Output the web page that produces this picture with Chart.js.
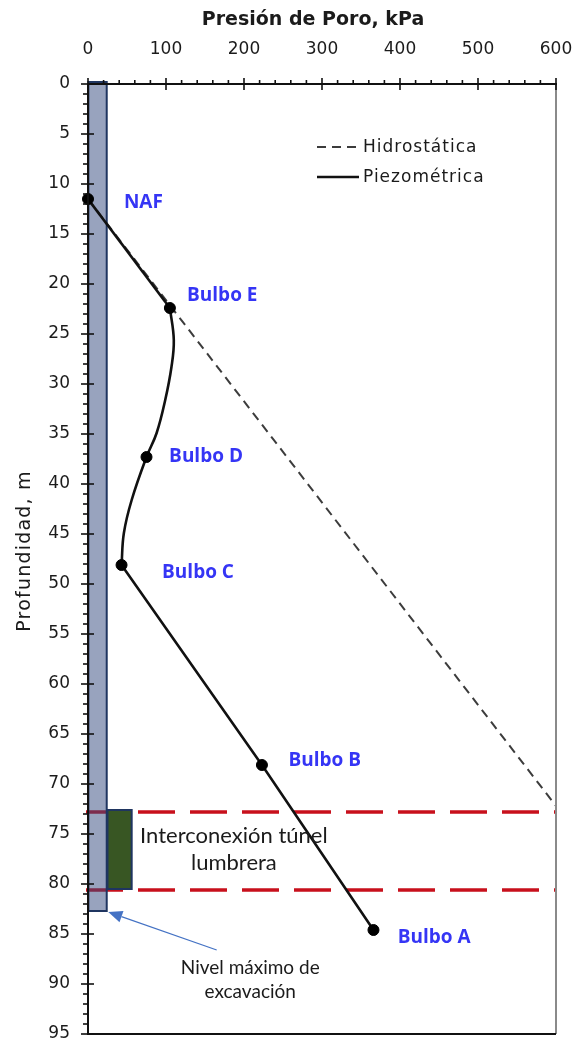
<!DOCTYPE html>
<html>
<head>
<meta charset="utf-8">
<script src="https://cdn.jsdelivr.net/npm/chart.js@4.4.1/dist/chart.umd.min.js"></script>
<style>
  html, body { margin: 0; padding: 0; background: #fff; }
  #wrap { width: 576px; height: 1047px; }
</style>
</head>
<body>
<div id="wrap"><canvas id="chart" width="576" height="1047"></canvas></div>
<script>
// Pore pressure profile along the shaft: pressure (kPa) against depth (m)
const pressureTicks = [0, 100, 200, 300, 400, 500, 600];
const depthTicks = [0, 5, 10, 15, 20, 25, 30, 35, 40, 45, 50, 55, 60, 65, 70, 75, 80, 85, 90, 95];
const pressureTitle = 'Presión de Poro, kPa';
const depthTitle = 'Profundidad, m';

// Hydrostatic line from the water table (NAF)
const hydroPressure = [0, 600];
const hydroDepth = [11.5, 72.2];

// Piezometer readings
const bulbNames = ['NAF', 'Bulbo E', 'Bulbo D', 'Bulbo C', 'Bulbo B', 'Bulbo A'];
const bulbPressure = [0, 105, 75, 43, 223, 366];
const bulbDepth = [11.5, 22.4, 37.3, 48.1, 68.1, 84.6];

// Smoothed piezometric trace between bulbs E, D and C
const curvePressure = [105, 110, 107, 99, 88, 75, 56, 46, 43];
const curveDepth = [22.4, 25.6, 28.3, 31.6, 34.9, 37.3, 41.6, 44.9, 48.1];

// Where each bulb name is written
const labelPressure = [46, 127, 104, 95, 257, 397];
const labelDepth = [11.9, 21.2, 37.3, 48.9, 67.7, 85.4];

// Tunnel connection band and shaft
const tunnelDepths = [72.8, 80.6];
const shaftPressure = [0.5, 24];
const shaftDepth = [-0.2, 82.7];
const tunnelPressure = [25, 56];
const tunnelDepth = [72.6, 80.5];

// Note about the maximum excavation level
const noteLines = ['Nivel máximo de', 'excavación'];
const notePressure = 208;
const noteDepth = [88.4, 90.8];
const arrowFrom = [165, 86.6];
const arrowTo = [26, 82.8];
const bandLines = ['Interconexión túnel', 'lumbrera'];
const bandPressure = 187;
const bandDepth = [75.2, 77.9];

const pts = (xs, ys) => xs.map((v, i) => ({ x: v, y: ys[i] }));

const BLUE = '#3535f5';
const INK = '#1b1b1b';

const overlay = {
  id: 'overlay',
  beforeDatasetsDraw(chart) {
    const { ctx, scales: { x, y }, chartArea: a } = chart;
    ctx.save();
    // red dashed band limits
    ctx.strokeStyle = '#c8101c';
    ctx.lineWidth = 3.5;
    ctx.setLineDash([37, 15]);
    tunnelDepths.forEach(d => {
      const py = y.getPixelForValue(d);
      ctx.beginPath();
      ctx.moveTo(a.left - 2, py);
      ctx.lineTo(a.right, py);
      ctx.stroke();
    });
    ctx.setLineDash([]);
    // shaft
    const sx0 = x.getPixelForValue(shaftPressure[0]), sx1 = x.getPixelForValue(shaftPressure[1]);
    const sy0 = y.getPixelForValue(shaftDepth[0]), sy1 = y.getPixelForValue(shaftDepth[1]);
    ctx.fillStyle = 'rgba(49,71,125,0.5)';
    ctx.fillRect(sx0, sy0, sx1 - sx0, sy1 - sy0);
    ctx.strokeStyle = '#1f3560';
    ctx.lineWidth = 2;
    ctx.strokeRect(sx0, sy0, sx1 - sx0, sy1 - sy0);
    // tunnel connection block
    const tx0 = x.getPixelForValue(tunnelPressure[0]), tx1 = x.getPixelForValue(tunnelPressure[1]);
    const ty0 = y.getPixelForValue(tunnelDepth[0]), ty1 = y.getPixelForValue(tunnelDepth[1]);
    ctx.fillStyle = '#385623';
    ctx.fillRect(tx0, ty0, tx1 - tx0, ty1 - ty0);
    ctx.strokeStyle = '#1f3560';
    ctx.strokeRect(tx0, ty0, tx1 - tx0, ty1 - ty0);
    ctx.restore();
  },
  afterDatasetsDraw(chart) {
    const { ctx, scales: { x, y }, chartArea: a } = chart;
    ctx.save();
    // frame
    ctx.lineWidth = 2;
    ctx.strokeStyle = '#8a8a8a';
    ctx.beginPath(); ctx.moveTo(a.right, a.top); ctx.lineTo(a.right, a.bottom); ctx.stroke();
    ctx.strokeStyle = '#111';
    ctx.beginPath();
    ctx.moveTo(a.left, a.bottom); ctx.lineTo(a.right, a.bottom);
    ctx.moveTo(a.left, a.top); ctx.lineTo(a.right + 1, a.top);
    ctx.moveTo(a.left, a.top); ctx.lineTo(a.left, a.bottom + 1);
    ctx.stroke();
    // tick marks
    ctx.lineWidth = 1.6;
    for (let v = 0; v <= 600; v += 20) {
      const px = x.getPixelForValue(v);
      const major = pressureTicks.includes(v);
      ctx.beginPath();
      ctx.moveTo(px, a.top - (major ? 6 : 4));
      ctx.lineTo(px, a.top + (major ? 6 : 0));
      ctx.stroke();
    }
    for (let v = 0; v <= 95; v += 1) {
      const py = y.getPixelForValue(v);
      const major = depthTicks.includes(v);
      ctx.beginPath();
      ctx.moveTo(a.left - (major ? 7 : 5), py);
      ctx.lineTo(a.left + (major ? 6 : 0), py);
      ctx.stroke();
    }
    // axis titles
    ctx.fillStyle = INK;
    ctx.textBaseline = 'middle';
    ctx.textAlign = 'center';
    ctx.font = 'bold 19px "DejaVu Sans"';
    ctx.fillText(pressureTitle, 313, 20);
    ctx.save();
    ctx.translate(25, 551);
    ctx.rotate(-Math.PI / 2);
    ctx.font = '19px "DejaVu Sans"';
    ctx.letterSpacing = '1.2px';
    ctx.fillText(depthTitle, 0, 0);
    ctx.restore();
    // bulb names
    ctx.fillStyle = BLUE;
    ctx.font = 'bold 19px "Open Sans"';
    ctx.textAlign = 'left';
    ctx.textBaseline = 'middle';
    bulbNames.forEach((n, i) => {
      ctx.fillText(n, x.getPixelForValue(labelPressure[i]), y.getPixelForValue(labelDepth[i]));
    });
    // band text
    ctx.fillStyle = INK;
    ctx.font = '22px Lato';
    ctx.textAlign = 'center';
    bandLines.forEach((t, i) => {
      ctx.fillText(t, x.getPixelForValue(bandPressure), y.getPixelForValue(bandDepth[i]));
    });
    // excavation note and arrow
    ctx.font = '19px Lato';
    noteLines.forEach((t, i) => {
      ctx.fillText(t, x.getPixelForValue(notePressure), y.getPixelForValue(noteDepth[i]));
    });
    const ax0 = x.getPixelForValue(arrowFrom[0]), ay0 = y.getPixelForValue(arrowFrom[1]);
    const ax1 = x.getPixelForValue(arrowTo[0]), ay1 = y.getPixelForValue(arrowTo[1]);
    const ang = Math.atan2(ay1 - ay0, ax1 - ax0);
    const headLen = 14, headW = 6;
    const bx = ax1 - headLen * Math.cos(ang), by = ay1 - headLen * Math.sin(ang);
    ctx.strokeStyle = '#4472c4';
    ctx.fillStyle = '#4472c4';
    ctx.lineWidth = 1.2;
    ctx.beginPath(); ctx.moveTo(ax0, ay0); ctx.lineTo(bx, by); ctx.stroke();
    ctx.beginPath();
    ctx.moveTo(ax1, ay1);
    ctx.lineTo(bx + headW * Math.sin(ang), by - headW * Math.cos(ang));
    ctx.lineTo(bx - headW * Math.sin(ang), by + headW * Math.cos(ang));
    ctx.closePath(); ctx.fill();
    // legend
    const legendItems = chart.data.datasets.filter(d => d.inLegend);
    ctx.font = '17px "DejaVu Sans"';
    ctx.letterSpacing = '1px';
    ctx.textAlign = 'left';
    ctx.fillStyle = INK;
    legendItems.forEach((d, i) => {
      const ly = 147 + i * 30;
      ctx.strokeStyle = d.borderColor;
      ctx.lineWidth = d.borderWidth;
      ctx.setLineDash(d.borderDash || []);
      ctx.beginPath(); ctx.moveTo(317, ly); ctx.lineTo(359, ly); ctx.stroke();
      ctx.setLineDash([]);
      ctx.fillText(d.label, 363, ly + 1);
    });
    ctx.letterSpacing = '0px';
    ctx.restore();
  }
};

new Chart(document.getElementById('chart'), {
  type: 'scatter',
  data: {
    datasets: [
      {
        label: 'Hidrostática', inLegend: true,
        data: pts(hydroPressure, hydroDepth),
        showLine: true, borderColor: '#3c3c3c', borderWidth: 2, borderDash: [9, 6],
        pointRadius: 0, order: 5
      },
      {
        label: 'Piezométrica', inLegend: true,
        data: pts(bulbPressure.slice(0, 2), bulbDepth.slice(0, 2)),
        showLine: true, borderColor: '#111', borderWidth: 2.6, pointRadius: 0, order: 3
      },
      {
        label: 'Piezométrica (tramo curvo)',
        data: pts(curvePressure, curveDepth),
        showLine: true, borderColor: '#111', borderWidth: 2.6, pointRadius: 0, tension: 0.4, order: 3
      },
      {
        label: 'Piezométrica (tramo inferior)',
        data: pts(bulbPressure.slice(3), bulbDepth.slice(3)),
        showLine: true, borderColor: '#111', borderWidth: 2.6, pointRadius: 0, order: 3
      },
      {
        label: 'Bulbos',
        data: pts(bulbPressure, bulbDepth),
        showLine: false, pointRadius: 5.5, pointBackgroundColor: '#000', pointBorderColor: '#000',
        clip: false, order: 1
      }
    ]
  },
  options: {
    responsive: false,
    animation: false,
    devicePixelRatio: 1,
    layout: { padding: { left: 0, right: 20, top: 0, bottom: 13 } },
    plugins: { legend: { display: false }, tooltip: { enabled: false } },
    scales: {
      x: {
        type: 'linear', position: 'top', min: 0, max: 600,
        afterBuildTicks: s => { s.ticks = pressureTicks.map(v => ({ value: v })); },
        afterFit: s => { s.height = 84; s.paddingLeft = 0; s.paddingRight = 0; },
        grid: { drawOnChartArea: false, drawTicks: false },
        border: { display: false },
        ticks: { font: { family: 'DejaVu Sans', size: 17 }, color: INK, padding: 24, maxRotation: 0 },
        title: { display: false }
      },
      y: {
        type: 'linear', position: 'left', reverse: true, min: 0, max: 95,
        afterBuildTicks: s => { s.ticks = depthTicks.map(v => ({ value: v })); },
        afterFit: s => { s.width = 88; s.paddingTop = 0; s.paddingBottom = 0; },
        grid: { drawOnChartArea: false, drawTicks: false },
        border: { display: false },
        ticks: { font: { family: 'DejaVu Sans', size: 17 }, color: INK, padding: 18 },
        title: { display: false }
      }
    }
  },
  plugins: [overlay]
});
</script>
</body>
</html>
